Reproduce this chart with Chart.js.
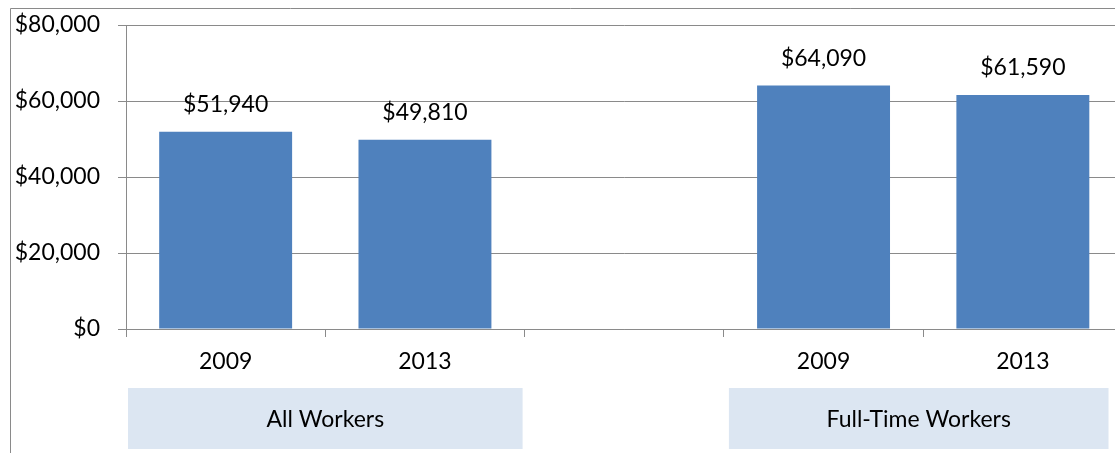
<!DOCTYPE html>
<html>
<head>
<meta charset="utf-8">
<script src="https://cdn.jsdelivr.net/npm/chart.js@4/dist/chart.umd.min.js"></script>
<style>
  html, body { margin: 0; padding: 0; background: #fff; overflow: hidden; width: 1115px; height: 453px; }
  #wrap { position: absolute; left: 0; top: 0; width: 1140px; height: 453px; }
  canvas { display: block; }
</style>
</head>
<body>
<div id="wrap"><canvas id="c" width="1140" height="453"></canvas></div>
<script>
// ---- data ----
const categories = ['2009', '2013', '', '2009', '2013'];
const earnings = [51940, 49810, null, 64090, 61590];
const yTicks = [0, 20000, 40000, 60000, 80000];
const groupLabels = ['All Workers', 'Full-Time Workers'];
const groupStart = [0, 3];
const groupEnd = [1, 4];

const FONT = 'Lato, "Open Sans", sans-serif';
const money = v => '$' + Number(v).toLocaleString('en-US');

const framePlugin = {
  id: 'frame',
  beforeDraw(chart) {
    const ctx = chart.ctx;
    ctx.save();
    ctx.fillStyle = '#fff';
    ctx.fillRect(0, 0, chart.width, chart.height);
    ctx.strokeStyle = '#8a8a8a';
    ctx.lineWidth = 1;
    ctx.beginPath();
    ctx.moveTo(10.5, chart.height + 5);
    ctx.lineTo(10.5, 8.5);
    ctx.lineTo(1130, 8.5);
    ctx.stroke();
    ctx.restore();
  }
};

const labelPlugin = {
  id: 'valueLabels',
  afterDatasetsDraw(chart) {
    const ctx = chart.ctx;
    const meta = chart.getDatasetMeta(0);
    ctx.save();
    ctx.font = '23px ' + FONT;
    ctx.fillStyle = '#000';
    ctx.textAlign = 'center';
    ctx.textBaseline = 'middle';
    meta.data.forEach((bar, i) => {
      const v = earnings[i];
      if (v == null) return;
      ctx.fillText(money(v), bar.x, bar.y - 27);
    });
    ctx.restore();
  }
};

const groupPlugin = {
  id: 'groups',
  afterDraw(chart) {
    const ctx = chart.ctx;
    const x = chart.scales.x;
    const half = (x.getPixelForValue(1) - x.getPixelForValue(0)) / 2;
    const insetL = [2, 5], insetR = [2, 14];
    const top = 388, bottom = 449;
    ctx.save();
    groupLabels.forEach((lab, g) => {
      const l = x.getPixelForValue(groupStart[g]) - half + insetL[g];
      const r = x.getPixelForValue(groupEnd[g]) + half - insetR[g];
      ctx.fillStyle = '#DCE6F2';
      ctx.fillRect(l, top, r - l, bottom - top);
      ctx.fillStyle = '#000';
      ctx.font = '23px ' + FONT;
      ctx.textAlign = 'center';
      ctx.textBaseline = 'middle';
      ctx.fillText(lab, (l + r) / 2, (top + bottom) / 2 + 1);
    });
    ctx.restore();
  }
};

new Chart(document.getElementById('c'), {
  type: 'bar',
  data: {
    labels: categories,
    datasets: [{
      data: earnings,
      backgroundColor: '#4F81BD',
      borderWidth: 0,
      barPercentage: 0.667,
      categoryPercentage: 1.0
    }]
  },
  options: {
    responsive: false,
    animation: false,
    devicePixelRatio: 1,
    layout: { padding: { left: 0, top: 25, right: 17.5, bottom: 0 } },
    plugins: { legend: { display: false }, tooltip: { enabled: false } },
    scales: {
      x: {
        offset: true,
        grid: { offset: true, drawOnChartArea: false, drawTicks: true, tickLength: 8, color: '#8a8a8a' },
        border: { display: true, color: '#8a8a8a', width: 1 },
        ticks: { color: '#000', font: { family: FONT, size: 23 }, padding: 11, maxRotation: 0, autoSkip: false },
        afterFit(s) { s.height = 453 - 329; s.paddingLeft = 0; s.paddingRight = 0; }
      },
      y: {
        min: 0, max: 80000,
        afterBuildTicks(s) { s.ticks = yTicks.map(v => ({ value: v })); },
        grid: { color: '#8a8a8a', tickLength: 8, drawTicks: true },
        border: { display: true, color: '#8a8a8a', width: 1 },
        ticks: { color: '#000', font: { family: FONT, size: 23 }, padding: 18, callback: v => money(v) },
        afterFit(s) { s.width = 126; s.paddingTop = 0; s.paddingBottom = 0; }
      }
    }
  },
  plugins: [framePlugin, labelPlugin, groupPlugin]
});
</script>
</body>
</html>
